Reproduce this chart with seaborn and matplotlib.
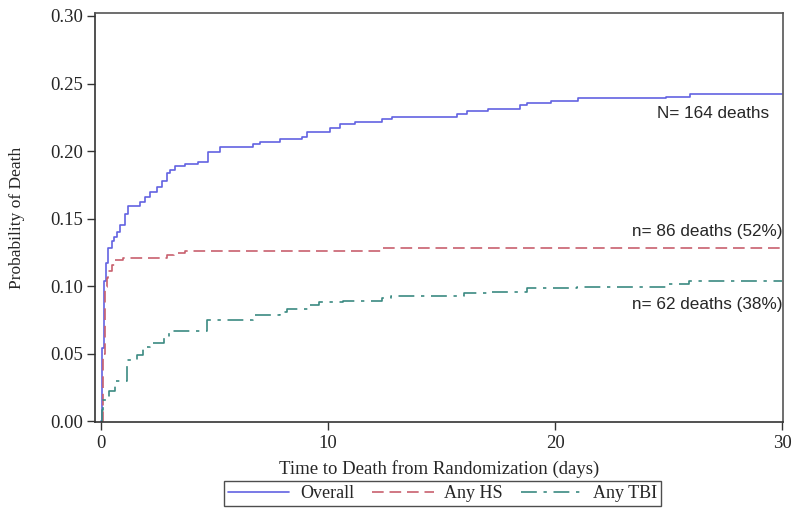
import numpy as np
import pandas as pd
import matplotlib
matplotlib.use("Agg")
import matplotlib.pyplot as plt
import seaborn as sns

# cumulative probability of death, step points
overall_t = [0.0, 0.05, 0.12, 0.2, 0.32, 0.47, 0.55, 0.69, 0.84, 1.06, 1.2, 1.72, 1.94,
             2.16, 2.45, 2.67, 2.9, 3.05, 3.25, 3.7, 4.28, 4.72, 5.24, 6.7, 7.0, 7.9,
             8.84, 9.05, 10.1, 10.5, 11.2, 12.37, 12.8, 15.66, 16.1, 17.05, 18.45,
             18.75, 19.8, 21.0, 24.9, 25.95, 30.0]
overall_p = [0.0, 0.054, 0.104, 0.117, 0.128, 0.133, 0.136, 0.140, 0.145, 0.153, 0.159,
             0.1625, 0.166, 0.170, 0.1736, 0.178, 0.1835, 0.186, 0.189, 0.1904, 0.1916,
             0.1995, 0.2032, 0.205, 0.2064, 0.2086, 0.2106, 0.2143, 0.2167, 0.2197,
             0.2217, 0.2235, 0.2254, 0.2274, 0.2299, 0.2311, 0.234, 0.2358, 0.2373,
             0.239, 0.2402, 0.242, 0.242]

hs_t = [0.0, 0.07, 0.15, 0.25, 0.32, 0.47, 0.62, 0.97, 2.9, 3.2, 3.7, 12.37, 30.0]
hs_p = [0.0, 0.05, 0.0995, 0.106, 0.111, 0.1156, 0.119, 0.1205, 0.123, 0.1247, 0.126,
        0.1279, 0.1279]

tbi_t = [0.0, 0.03, 0.1, 0.35, 0.6, 1.15, 1.6, 1.85, 2.15, 2.75, 3.0, 4.65, 6.7, 7.9,
         8.2, 9.2, 9.6, 10.66, 12.37, 12.75, 16.0, 17.0, 18.75, 20.95, 24.9, 25.9, 30.0]
tbi_p = [0.0, 0.008, 0.0156, 0.022, 0.030, 0.045, 0.049, 0.055, 0.058, 0.0625, 0.067,
         0.075, 0.0785, 0.081, 0.0827, 0.086, 0.0884, 0.0891, 0.0909, 0.0926, 0.095,
         0.0958, 0.0983, 0.0995, 0.1015, 0.1037, 0.1037]

groups = ["Overall", "Any HS", "Any TBI"]
labels = ["N= 164 deaths", "n= 86 deaths (52%)", "n= 62 deaths (38%)"]

df = pd.concat([
    pd.DataFrame({"time": overall_t, "prob": overall_p, "group": "Overall"}),
    pd.DataFrame({"time": hs_t, "prob": hs_p, "group": "Any HS"}),
    pd.DataFrame({"time": tbi_t, "prob": tbi_p, "group": "Any TBI"}),
])

palette = {"Overall": "#6262e2", "Any HS": "#c8606e", "Any TBI": "#3b8a82"}
dashes = {"Overall": "", "Any HS": (7, 3.5), "Any TBI": (9.5, 4, 2, 4)}

sns.set_style("white")
plt.rcParams["font.family"] = ["Liberation Serif", "DejaVu Serif"]

fig = plt.figure(figsize=(8, 5.21), dpi=100)
ax = fig.add_axes([0.119, 0.19, 0.86, 0.785])

sns.lineplot(data=df, x="time", y="prob", hue="group", style="group",
             palette=palette, dashes=dashes, hue_order=groups, style_order=groups,
             estimator=None, drawstyle="steps-post", linewidth=1.2, ax=ax)

ax.set_xlim(-0.26, 30.04)
ax.set_ylim(-0.0007, 0.3022)
ax.set_xticks([0, 10, 20, 30])
ax.set_yticks(np.arange(0, 0.31, 0.05))
ax.yaxis.set_major_formatter(matplotlib.ticker.FormatStrFormatter("%.2f"))
ax.tick_params(axis="both", direction="out", length=6, width=1, color="#333333",
               labelsize=13.5, pad=3, bottom=True, left=True)
for s in ax.spines.values():
    s.set_color("#555555")
    s.set_linewidth(1.2)
ax.spines["left"].set_color("#333333")
ax.spines["bottom"].set_color("#333333")

ax.set_xlabel("Time to Death from Randomization (days)", fontsize=13.5, labelpad=6)
ax.set_ylabel("Probability of Death", fontsize=12.5, labelpad=18)

# end-of-curve annotations
ax.text(29.4, 0.2275, labels[0], ha="right", va="center", fontsize=12.3,
        family="Liberation Sans")
ax.text(30.0, 0.1405, labels[1], ha="right", va="center", fontsize=12.3,
        family="Liberation Sans")
ax.text(30.0, 0.0865, labels[2], ha="right", va="center", fontsize=12.3,
        family="Liberation Sans")

handles, lbls = ax.get_legend_handles_labels()
ax.legend(handles, lbls, loc="center", bbox_to_anchor=(0.505, -0.175), ncol=3,
          frameon=True, fancybox=False, edgecolor="#222222", fontsize=13,
          handlelength=3.4, columnspacing=1.0, borderpad=0.2, handletextpad=0.6)
ax.get_legend().get_frame().set_linewidth(1.0)

fig.savefig("out.png", dpi=100)
